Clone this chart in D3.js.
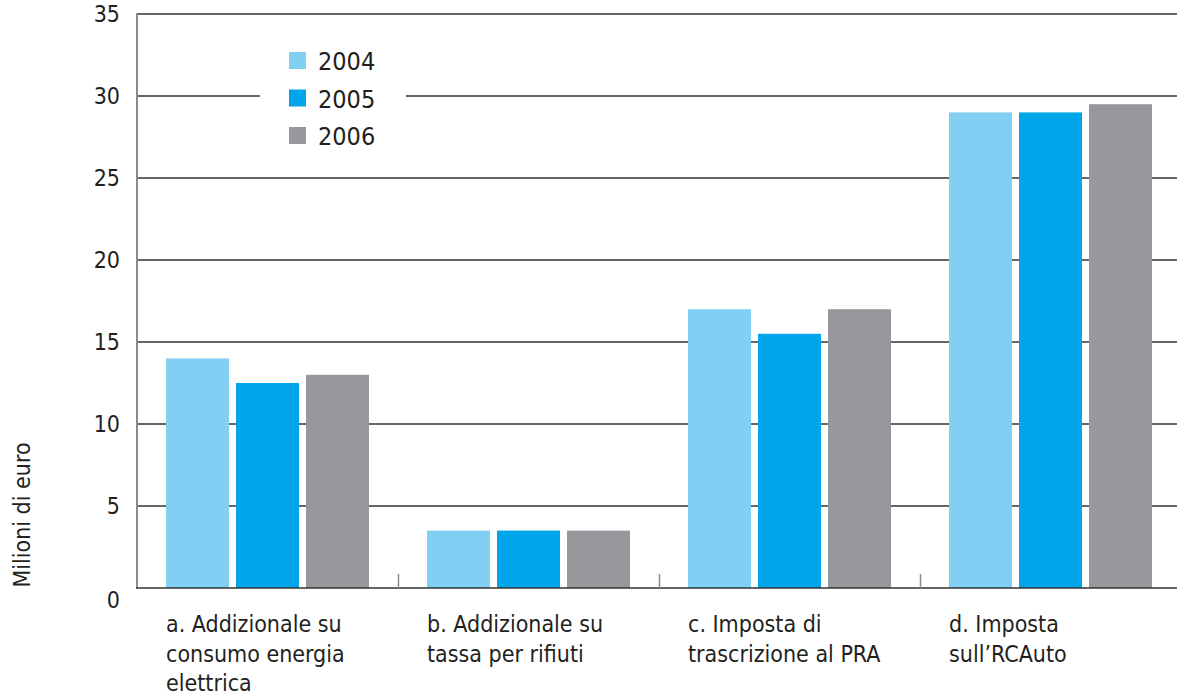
<!DOCTYPE html>
<html>
<head>
<meta charset="utf-8">
<script src="https://cdn.jsdelivr.net/npm/d3@7"></script>
<style>
  body { margin: 0; background: #fff; }
  text { font-family: 'DejaVu Sans Condensed', 'Liberation Sans Narrow', sans-serif; fill: #231f20; }
</style>
</head>
<body>
<div id="container"></div>
<script>
  // data
  const categories = [
    ['a. Addizionale su', 'consumo energia', 'elettrica'],
    ['b. Addizionale su', 'tassa per rifiuti'],
    ['c. Imposta di', 'trascrizione al PRA'],
    ['d. Imposta', 'sull\u2019RCAuto']
  ]
  const years = ['2004', '2005', '2006']
  const values2004 = [14, 3.5, 17, 29]
  const values2005 = [12.5, 3.5, 15.5, 29]
  const values2006 = [13, 3.5, 17, 29.5]
  const yTicks = [0, 5, 10, 15, 20, 25, 30, 35]

  const colors = ['#81d0f4', '#00a6e9', '#98979c']
  const series = [values2004, values2005, values2006]

  const width = 1177
  const height = 695
  const plotLeft = 137
  const plotTop = 14
  const plotBottom = 588
  const plotRight = 1181

  const svg = d3.select('#container')
    .append('svg')
    .attr('width', width)
    .attr('height', height)

  const catKeys = categories.map((c, i) => i)

  const xScale = d3.scaleBand()
    .domain(catKeys)
    .range([plotLeft, plotRight])

  const xInner = d3.scaleBand()
    .domain(years)
    .range([29, 232])
    .paddingInner(0.1)

  const yScale = d3.scaleLinear()
    .domain([0, 35])
    .range([plotBottom, plotTop])

  // horizontal grid lines (gap in the 30 line for the legend)
  yTicks.filter(t => t > 0).forEach(t => {
    const y = yScale(t)
    if (t === 30) {
      svg.append('line').attr('x1', plotLeft).attr('x2', 260).attr('y1', y).attr('y2', y)
        .attr('stroke', '#333').attr('stroke-width', 1.5)
      svg.append('line').attr('x1', 406).attr('x2', width).attr('y1', y).attr('y2', y)
        .attr('stroke', '#333').attr('stroke-width', 1.5)
    } else {
      svg.append('line').attr('x1', plotLeft).attr('x2', width).attr('y1', y).attr('y2', y)
        .attr('stroke', '#333').attr('stroke-width', 1.5)
    }
  })

  // bars
  const groups = svg.selectAll('.group')
    .data(catKeys)
    .enter()
    .append('g')
    .attr('transform', d => `translate(${xScale(d)}, 0)`)

  groups.selectAll('rect')
    .data(d => years.map((yr, j) => ({ yr, j, v: series[j][d] })))
    .enter()
    .append('rect')
    .attr('x', d => xInner(d.yr))
    .attr('width', xInner.bandwidth())
    .attr('y', d => yScale(d.v))
    .attr('height', d => plotBottom - yScale(d.v))
    .attr('fill', d => colors[d.j])

  // left axis line
  svg.append('line')
    .attr('x1', plotLeft).attr('x2', plotLeft).attr('y1', plotTop - 1).attr('y2', plotBottom)
    .attr('stroke', '#8c8c8c').attr('stroke-width', 2)

  // bottom axis line
  svg.append('line')
    .attr('x1', plotLeft - 1).attr('x2', width).attr('y1', plotBottom).attr('y2', plotBottom)
    .attr('stroke', '#333').attr('stroke-width', 1.5)

  // group separator ticks
  catKeys.slice(1).forEach(k => {
    const x = xScale(k) + 0.5
    svg.append('line')
      .attr('x1', x).attr('x2', x).attr('y1', plotBottom - 14).attr('y2', plotBottom)
      .attr('stroke', '#8c8c8c').attr('stroke-width', 1.5)
  })

  // y tick labels
  svg.selectAll('.ytick')
    .data(yTicks)
    .enter()
    .append('text')
    .attr('x', 120)
    .attr('y', d => yScale(d) + (d === 0 ? 20 : 8))
    .attr('text-anchor', 'end')
    .attr('font-size', 23)
    .text(d => d)

  // y axis title
  svg.append('text')
    .attr('transform', 'translate(30, 515) rotate(-90)')
    .attr('text-anchor', 'middle')
    .attr('font-size', 23)
    .text('Milioni di euro')

  // category labels
  groups.append('text')
    .attr('x', xInner(years[0]))
    .attr('y', 632)
    .attr('font-size', 23)
    .selectAll('tspan')
    .data(d => categories[d])
    .enter()
    .append('tspan')
    .attr('x', xInner(years[0]))
    .attr('dy', (d, i) => i === 0 ? 0 : 29.5)
    .text(d => d)

  // legend
  const legend = svg.append('g')
    .attr('transform', 'translate(289, 52)')

  years.forEach((yr, i) => {
    legend.append('rect')
      .attr('x', 0).attr('y', i * 37.5)
      .attr('width', 17).attr('height', 17)
      .attr('fill', colors[i])
    legend.append('text')
      .attr('x', 29).attr('y', i * 37.5 + 18)
      .attr('font-size', 25)
      .text(yr)
  })
</script>
</body>
</html>
